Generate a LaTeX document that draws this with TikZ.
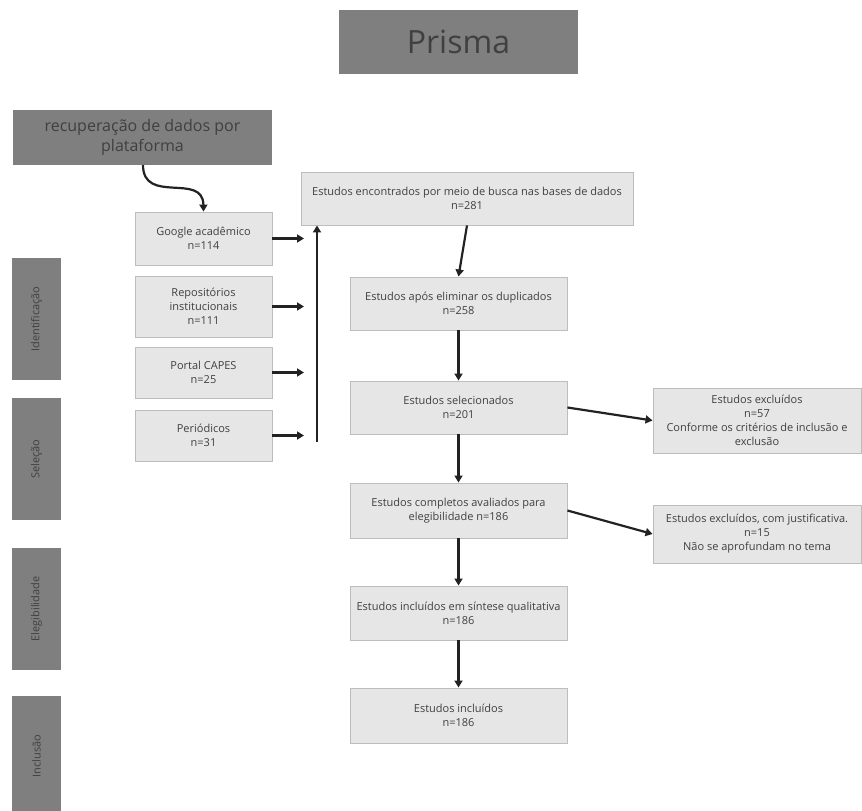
\documentclass[tikz,border=0pt]{standalone}
\usepackage{fontspec}
\setmainfont{Open Sans}
\usetikzlibrary{arrows.meta}
\definecolor{lightbox}{HTML}{E6E6E6}
\definecolor{lightedge}{HTML}{BDBDBD}
\definecolor{darkbox}{HTML}{7F7F7F}
\definecolor{txt}{HTML}{404040}
\definecolor{arrowc}{HTML}{222222}
\tikzset{
  lbox/.style={draw=lightedge, fill=lightbox, line width=0.9pt, align=center, text=txt,
    font=\fontsize{11}{14}\selectfont, inner sep=1pt},
  dbox/.style={draw=none, fill=darkbox, align=center, text=txt, inner sep=1pt},
  sidebox/.style={dbox, minimum width=49pt, font=\fontsize{11}{13}\selectfont, text=black!75},
  arr/.style={draw=arrowc, line width=2.2pt, -{Triangle[width=8pt,length=7pt]}},
  ln/.style={draw=arrowc, line width=2.2pt}
}
\begin{document}
\begin{tikzpicture}[x=1pt,y=-1pt]
\useasboundingbox (0,0) rectangle (862,811);
% title
\node[dbox, minimum width=239pt, minimum height=64pt, font=\fontsize{32}{36}\selectfont] (title) at (458.5,42) {Prisma};
\node[dbox, minimum width=259pt, minimum height=55pt, font=\fontsize{16}{19.5}\selectfont] (rec) at (142.5,137.5) {recuperação de dados por\\plataforma};
% platform boxes
\node[lbox, minimum width=137pt, minimum height=53pt] (google) at (203.5,238.5) {Google acadêmico\\n=114};
\node[lbox, minimum width=137pt, minimum height=61pt] (repo) at (203.5,306.5) {Repositórios\\institucionais\\n=111};
\node[lbox, minimum width=137pt, minimum height=51pt] (capes) at (203.5,372.5) {Portal CAPES\\n=25};
\node[lbox, minimum width=137pt, minimum height=51pt] (period) at (203.5,435.5) {Periódicos\\n=31};
% main flow
\node[lbox, minimum width=332pt, minimum height=53pt] (enc) at (467,198.5) {Estudos encontrados por meio de busca nas bases de dados\\n=281};
\node[lbox, minimum width=217pt, minimum height=53pt] (apos) at (458.5,303.5) {Estudos após eliminar os duplicados\\n=258};
\node[lbox, minimum width=217pt, minimum height=53pt] (selec) at (458.5,407.5) {Estudos selecionados\\n=201};
\node[lbox, minimum width=217pt, minimum height=55pt] (compl) at (458.5,510.5) {Estudos completos avaliados para\\elegibilidade n=186};
\node[lbox, minimum width=217pt, minimum height=54pt] (sint) at (458.5,613) {Estudos incluídos em síntese qualitativa\\n=186};
\node[lbox, minimum width=217pt, minimum height=55pt] (incl) at (458.5,715.5) {Estudos incluídos\\n=186};
% exclusions
\node[lbox, minimum width=208pt, minimum height=65pt] (exc1) at (757,420.5) {Estudos excluídos\\n=57\\Conforme os critérios de inclusão e\\exclusão};
\node[lbox, minimum width=208pt, minimum height=58pt] (exc2) at (757,534) {Estudos excluídos, com justificativa.\\n=15\\Não se aprofundam no tema};
% side labels
\node[sidebox, minimum height=122pt] (ident) at (36.5,319) {\rotatebox{90}{Identificação}};
\node[sidebox, minimum height=122pt] (sel) at (36.5,459) {\rotatebox{90}{Seleção}};
\node[sidebox, minimum height=122pt] (eleg) at (36.5,609) {\rotatebox{90}{Elegibilidade}};
\node[sidebox, minimum height=120pt] (inc) at (36.5,756) {\rotatebox{90}{Inclusão}};
% connectors
\draw[arr] (143,165) .. controls (143,205) and (203,172) .. (google.north);
\coordinate (g1) at (304,238.5);
\coordinate (r1) at (304,306.5);
\coordinate (c1) at (304,372.5);
\coordinate (p1) at (304,435.5);
\draw[arr] (google.east) -- (g1);
\draw[arr] (repo.east) -- (r1);
\draw[arr] (capes.east) -- (c1);
\draw[arr] (period.east) -- (p1);
\coordinate (vb) at (317,442);
\draw[arr] (vb) -- (vb |- enc.south);
\draw[arr] (enc.south) -- (apos.north);
\draw[arr] (apos.south) -- (selec.north);
\draw[arr] (selec.south) -- (compl.north);
\draw[arr] (compl.south) -- (sint.north);
\draw[arr] (sint.south) -- (incl.north);
\draw[arr] (selec.east) -- (exc1.west);
\draw[arr] (compl.east) -- (exc2.west);
\end{tikzpicture}
\end{document}
